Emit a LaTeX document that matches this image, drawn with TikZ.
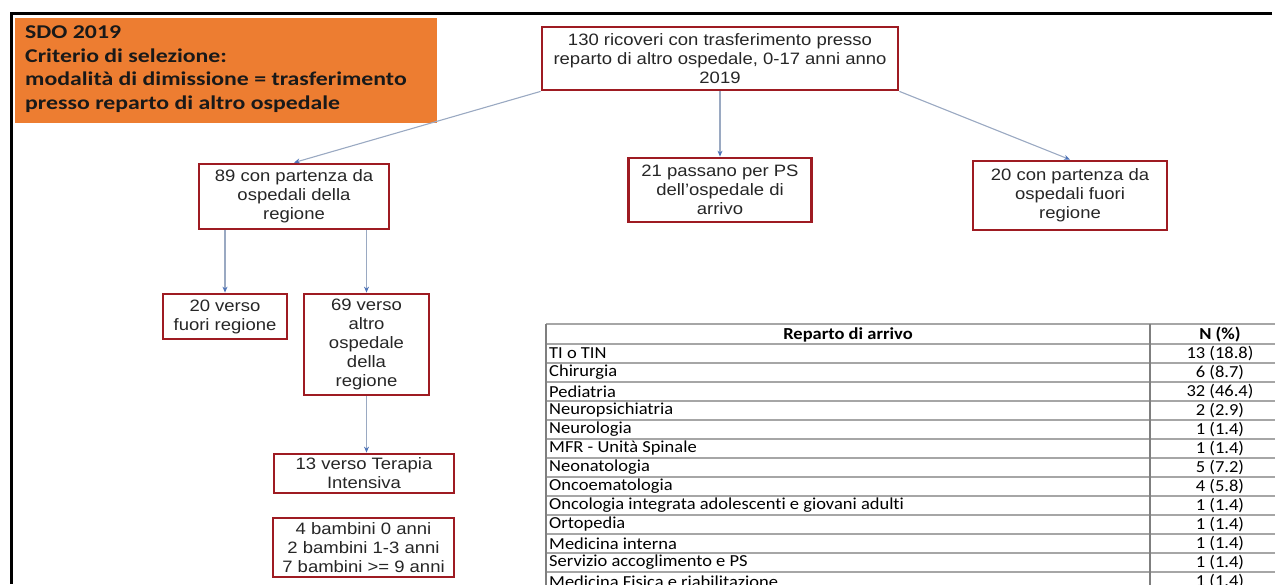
\documentclass[tikz,border=0pt]{standalone}
\usepackage{fontspec}
\usetikzlibrary{arrows.meta,calc}
\newfontfamily\arialf[FakeStretch=1.12]{Liberation Sans}
\newfontfamily\calbf[FakeStretch=1.22,BoldFont={Carlito Bold}]{Carlito}
\newfontfamily\calf[FakeStretch=1.1,Ligatures=NoCommon,BoldFont={Carlito Bold}]{Carlito}
\definecolor{boxred}{HTML}{9E1B22}
\definecolor{orangebg}{HTML}{ED7D31}
\definecolor{linkc}{HTML}{9AA9C2}
\definecolor{tipc}{HTML}{4F74B8}
\definecolor{gridc}{HTML}{A6A6A6}
\definecolor{gridd}{HTML}{7F7F7F}
\tikzset{
  rbox/.style={draw=boxred, line width=2.8pt, fill=white, align=center, inner sep=0pt,
    font=\arialf\fontsize{16.5}{19}\selectfont, text=black!85},
  link/.style={draw=linkc, line width=1.1pt, -{Stealth[length=6pt,width=5pt,color=tipc]}},
  tcell/.style={font=\calf\fontsize{16.8}{19}\selectfont, inner sep=0pt, text=black},
}
\begin{document}
\begin{tikzpicture}[x=1pt,y=-1pt]
\useasboundingbox (0,0) rectangle (1275,584);
% frame
\draw[line width=3pt, black] (1272,13) -- (11,13) -- (11,584);
% orange header
\fill[orangebg] (15,18) rectangle (437,123);
\node[anchor=north west, align=left, inner sep=0pt, text=black!90,
  font=\calbf\fontsize{19.5}{23.5}\selectfont\bfseries] (hdr) at (25,26)
  {SDO 2019\\Criterio di selezione:\\modalità di dimissione = trasferimento\\presso reparto di altro ospedale};
% boxes
\node[rbox, minimum width=356pt, minimum height=63pt] (top) at (720,58.5)
  {130 ricoveri con trasferimento presso\\reparto di altro ospedale, 0-17 anni anno\\2019};
\node[rbox, minimum width=190pt, minimum height=65pt] (b89) at (294,196.5)
  {89 con partenza da\\ospedali della\\regione};
\node[rbox, minimum width=183pt, minimum height=64pt] (b21) at (720,190)
  {21 passano per PS\\dell’ospedale di\\arrivo};
\node[rbox, minimum width=194pt, minimum height=69pt] (b20a) at (1070,195.5)
  {20 con partenza da\\ospedali fuori\\regione};
\node[rbox, minimum width=124pt, minimum height=45pt] (b20v) at (225,316.5)
  {20 verso\\fuori regione};
\node[rbox, minimum width=125pt, minimum height=101pt] (b69) at (366.5,344.5)
  {69 verso\\altro\\ospedale\\della\\regione};
\node[rbox, minimum width=180pt, minimum height=39pt] (b13) at (364,473.5)
  {13 verso Terapia\\Intensiva};
\node[rbox, minimum width=181pt, minimum height=59pt] (b4) at (363.5,547.5)
  {4 bambini 0 anni\\2 bambini 1-3 anni\\7 bambini >= 9 anni};
% connectors
\draw[link] (top.south west) -- (b89.north);
\draw[link] (top.south) -- (b21.north);
\draw[link] (top.south east) -- (b20a.north);
\draw[link] (b20v.north |- b89.south) -- (b20v.north);
\draw[link] (b69.north |- b89.south) -- (b69.north);
\draw[link] (b69.south) -- (b69.south |- b13.north);
% table
\begin{scope}
\clip (0,0) rectangle (1275,584);
\foreach \i in {0,...,14} {
  \draw[gridc, line width=1.4pt] (546,{324+(\i>0)*20+(\i>0)*(\i-1)*19}) -- (1290,{324+(\i>0)*20+(\i>0)*(\i-1)*19});
}
\draw[gridd, line width=1.4pt] (546,324) -- (546,600);
\draw[gridd, line width=1.4pt] (1150,324) -- (1150,600);
\node[tcell, font=\calf\fontsize{16.8}{19}\selectfont\bfseries] (h1) at (848,334.5) {Reparto di arrivo};
\node[tcell, font=\calf\fontsize{16.8}{19}\selectfont\bfseries] (h2) at (1220,334.5) {N (\%)};
\foreach [count=\i] \a/\b in {TI o TIN/13 (18.8), Chirurgia/6 (8.7), Pediatria/32 (46.4),
  Neuropsichiatria/2 (2.9), Neurologia/1 (1.4), MFR - Unità Spinale/1 (1.4),
  Neonatologia/5 (7.2), Oncoematologia/4 (5.8),
  Oncologia integrata adolescenti e giovani adulti/1 (1.4), Ortopedia/1 (1.4),
  Medicina interna/1 (1.4), Servizio accoglimento e PS/1 (1.4),
  Medicina Fisica e riabilitazione/1 (1.4)} {
  \node[tcell, anchor=west] (r\i a) at (549,{344+(\i-1)*19+9.5}) {\a};
  \node[tcell] (r\i b) at (1220,{344+(\i-1)*19+9.5}) {\b};
}
\end{scope}
\end{tikzpicture}
\end{document}
